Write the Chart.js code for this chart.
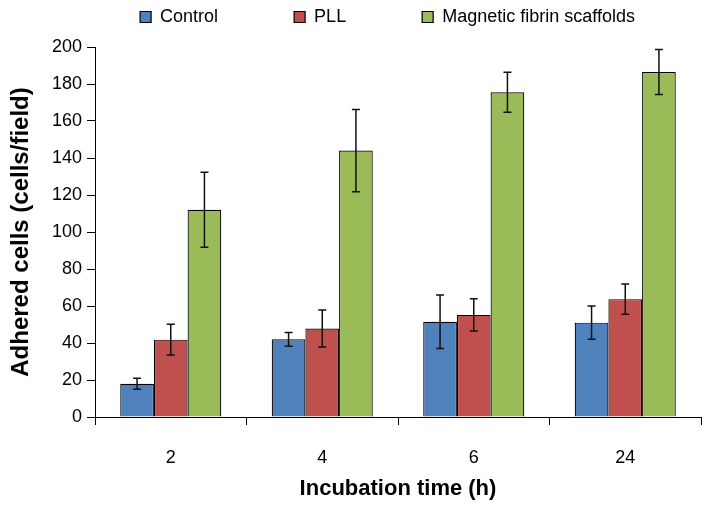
<!DOCTYPE html>
<html>
<head>
<meta charset="utf-8">
<script src="https://cdn.jsdelivr.net/npm/chart.js@4.4.1/dist/chart.umd.min.js"></script>
<style>
  html, body { margin: 0; padding: 0; background: #fff; }
  #wrap { width: 712px; height: 510px; }
</style>
</head>
<body>
<div id="wrap"><canvas id="myChart" width="712" height="510"></canvas></div>
<script>
const categories = ['2', '4', '6', '24'];
const seriesNames = ['Control', 'PLL', 'Magnetic fibrin scaffolds'];

const control = [18, 42, 51.5, 51];
const controlErr = [3, 3.7, 14.5, 9];
const pll = [41.8, 47.8, 55.2, 63.7];
const pllErr = [8.3, 10, 8.7, 8.2];
const magnetic = [112, 144, 175.5, 186.5];
const magneticErr = [20.3, 22.2, 10.8, 12.2];

const yTicks = [0, 20, 40, 60, 80, 100, 120, 140, 160, 180, 200];

const errors = [controlErr, pllErr, magneticErr];

// draws the error bars from the error arrays through the y scale
const errorBars = {
    id: 'errorBars',
    afterDatasetsDraw(chart) {
        const ctx = chart.ctx;
        const y = chart.scales.y;
        ctx.save();
        ctx.strokeStyle = '#111';
        ctx.lineWidth = 1.5;
        chart.data.datasets.forEach((ds, di) => {
            const meta = chart.getDatasetMeta(di);
            meta.data.forEach((bar, i) => {
                const v = ds.data[i];
                const e = errors[di][i];
                const top = y.getPixelForValue(v + e);
                const bot = y.getPixelForValue(v - e);
                const x = bar.x;
                const cap = 4;
                ctx.beginPath();
                ctx.moveTo(x, top); ctx.lineTo(x, bot);
                ctx.moveTo(x - cap, top); ctx.lineTo(x + cap, top);
                ctx.moveTo(x - cap, bot); ctx.lineTo(x + cap, bot);
                ctx.stroke();
            });
        });
        ctx.restore();
    }
};

// the legend items are spread wide, so move the box back up and across
const legendShift = {
    id: 'legendShift',
    afterLayout(chart) {
        const l = chart.legend;
        const pad = l.options.labels.padding;
        l.top = 8 - pad;
        l.bottom = 40;
        l.left += 37;
        l.right += 37;
    }
};

Chart.defaults.font.family = '"Liberation Sans", Arial, sans-serif';
Chart.defaults.color = '#000';

let ctx = document.getElementById('myChart').getContext('2d');
let chart = new Chart(ctx, {
    type: 'bar',
    data: {
        labels: categories,
        datasets: [
            { label: seriesNames[0], data: control, backgroundColor: '#4F81BD' },
            { label: seriesNames[1], data: pll, backgroundColor: '#C0504D' },
            { label: seriesNames[2], data: magnetic, backgroundColor: '#9BBB59' }
        ].map(ds => ({
            ...ds,
            borderColor: '#000',
            borderWidth: 1.2,
            categoryPercentage: 0.667,
            barPercentage: 1.0
        }))
    },
    options: {
        responsive: false,
        animation: false,
        layout: { padding: { top: 19, right: 11, left: 0, bottom: 0 } },
        plugins: {
            tooltip: { enabled: false },
            legend: {
                position: 'top',
                maxHeight: 28,
                labels: {
                    boxWidth: 11,
                    boxHeight: 11,
                    padding: 76,
                    font: { size: 18 },
                    color: '#000'
                }
            }
        },
        scales: {
            x: {
                afterFit: axis => { axis.height = 93; },
                grid: { offset: true, drawOnChartArea: false, tickLength: 8, color: '#000' },
                border: { display: true, color: '#000', width: 1 },
                ticks: { font: { size: 18 }, padding: 22, color: '#000' },
                title: {
                    display: true,
                    text: 'Incubation time (h)',
                    font: { size: 22, weight: 'bold' },
                    padding: { top: 7, bottom: 8 },
                    color: '#000'
                }
            },
            y: {
                min: 0,
                max: 200,
                afterBuildTicks: axis => { axis.ticks = yTicks.map(v => ({ value: v })); },
                afterFit: axis => { axis.width = 95; },
                grid: { drawOnChartArea: false, tickLength: 8, color: '#000' },
                border: { display: true, color: '#000', width: 1 },
                ticks: { font: { size: 18 }, padding: 5, color: '#000' },
                title: {
                    display: true,
                    text: 'Adhered cells (cells/field)',
                    font: { size: 24, weight: 'bold' },
                    padding: { top: 7, bottom: 4 },
                    color: '#000'
                }
            }
        }
    },
    plugins: [errorBars, legendShift]
});
</script>
</body>
</html>
